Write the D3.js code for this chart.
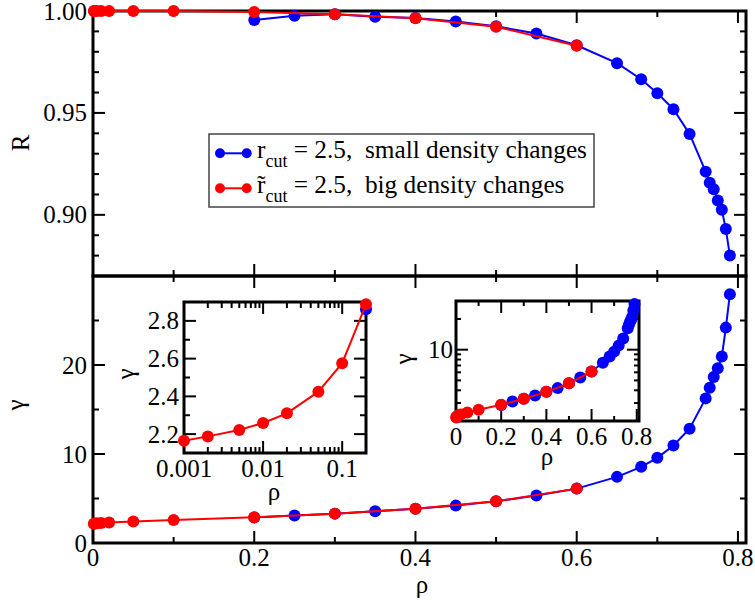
<!DOCTYPE html>
<html><head><meta charset="utf-8">
<script src="https://cdn.jsdelivr.net/npm/d3@7"></script>
<style>
body{margin:0;background:#fff}
text{font-family:"Liberation Serif","Times New Roman",serif;fill:#000;white-space:pre}
</style>
</head><body>
<svg id="c" width="755" height="608" xmlns="http://www.w3.org/2000/svg"></svg>
<script>
// ---------------- data ----------------
const rhoBlue   = [0.2,0.25,0.3,0.35,0.4,0.45,0.5,0.55,0.6,0.65,0.68,0.70,0.72,0.74,0.76,0.765,0.77,0.775,0.78,0.785,0.79];
const RBlue     = [0.9956,0.9977,0.9984,0.9972,0.9966,0.9948,0.9925,0.989,0.9832,0.9744,0.9665,0.9597,0.9518,0.9397,0.9212,0.9158,0.9126,0.907,0.9025,0.893,0.880];
const gammaBlue = [2.862,3.1,3.3,3.56,3.86,4.2,4.68,5.33,6.11,7.43,8.56,9.57,10.96,12.84,16.25,17.45,18.65,19.63,20.95,24.2,27.96];
const rhoRed    = [0.001,0.002,0.005,0.01,0.02,0.05,0.1,0.2,0.3,0.4,0.5,0.6];
const RRed      = [1.0,1.0,1.0,1.0,1.0,1.0,1.0,0.9995,0.9984,0.9964,0.9923,0.983];
const gammaRed  = [2.165,2.188,2.222,2.259,2.31,2.425,2.576,2.888,3.3,3.86,4.68,6.11];

const xMajor = [0,0.2,0.4,0.6,0.8], xMinor = [0.1,0.3,0.5,0.7];
const xLabels = ["0","0.2","0.4","0.6","0.8"];
const RMajor = [0.90,0.95,1.00], RLabels = ["0.90","0.95","1.00"];
const RMinor = [0.88,0.89,0.91,0.92,0.93,0.94,0.96,0.97,0.98,0.99];
const gMajor = [0,10,20], gLabels = ["0","10","20"], gMinor = [5,15,25];
const in1XMajor = [0.001,0.01,0.1], in1XLabels = ["0.001","0.01","0.1"];
const in1XMinor = [0.002,0.003,0.004,0.005,0.006,0.007,0.008,0.009,0.02,0.03,0.04,0.05,0.06,0.07,0.08,0.09];
const in1YMajor = [2.2,2.4,2.6,2.8], in1YLabels = ["2.2","2.4","2.6","2.8"];
const in1YMinor = [2.3,2.5,2.7];
const in2YMajor = [10], in2YLabels = ["10"], in2YMinor = [3,4,5,6,7,8,9,20];
const legendLabels = [" = 2.5,  small density changes"," = 2.5,  big density changes"];

const BLUE = "#0000ff", RED = "#ff0000";
const FS = 25;
const svg = d3.select("#c");

const blue = rhoBlue.map((r,i)=>({x:r,R:RBlue[i],g:gammaBlue[i]}));
const red  = rhoRed.map((r,i)=>({x:r,R:RRed[i],g:gammaRed[i]}));

// ---------------- helpers ----------------
function frame(g, xs, ys, fill){
  const [x0,x1]=xs.range(), [y0,y1]=ys.range();
  g.append("rect").attr("x",x0).attr("y",y1).attr("width",x1-x0).attr("height",y0-y1)
   .attr("fill",fill||"none").attr("stroke","#000").attr("stroke-width",3);
}
function ticks(g, xs, ys, o){
  const [x0,x1]=xs.range(), [yb,yt]=ys.range();
  const M=o.M||12, m=o.m||6;
  const seg=(a,b,c,d)=>g.append("line").attr("x1",a).attr("y1",b).attr("x2",c).attr("y2",d)
     .attr("stroke","#000").attr("stroke-width",2);
  const xt=(v,L)=>{const p=xs(v); seg(p,yb,p,yb-L); seg(p,yt,p,yt+L);};
  const yt_=(v,L)=>{const p=ys(v); seg(x0,p,x0+L,p); seg(x1,p,x1-L,p);};
  (o.xMaj||[]).forEach(v=>xt(v,M)); (o.xMin||[]).forEach(v=>xt(v,m));
  (o.yMaj||[]).forEach(v=>yt_(v,M)); (o.yMin||[]).forEach(v=>yt_(v,m));
}
function yLabels(g, ys, vals, labs, xr){
  vals.forEach((v,i)=>g.append("text").attr("x",xr).attr("y",ys(v)+8.5)
    .attr("text-anchor","end").attr("font-size",FS).text(labs[i]));
}
function xLabelsF(g, xs, vals, labs, base){
  vals.forEach((v,i)=>g.append("text").attr("x",xs(v)).attr("y",base)
    .attr("text-anchor","middle").attr("font-size",FS).text(labs[i]));
}
function series(g, data, xs, ys, key, color, r){
  const line=d3.line().x(d=>xs(d.x)).y(d=>ys(d[key]));
  g.append("path").attr("d",line(data)).attr("fill","none").attr("stroke",color).attr("stroke-width",2);
  g.selectAll(null).data(data).enter().append("circle")
   .attr("cx",d=>xs(d.x)).attr("cy",d=>ys(d[key])).attr("r",r).attr("fill",color);
}
function rotLabel(x,y,t){
  svg.append("text").attr("transform",`translate(${x},${y}) rotate(-90)`)
     .attr("text-anchor","middle").attr("font-size",FS).text(t);
}

// ---------------- main panels ----------------
const x = d3.scaleLinear().domain([0,0.81]).range([93,746]);
const yTop = d3.scaleLinear().domain([0.87,1.0]).range([276,11]);
const yBot = d3.scaleLinear().domain([0,30]).range([543,276]);

const gTop = svg.append("g");
frame(gTop,x,yTop);
ticks(gTop,x,yTop,{xMaj:xMajor,xMin:xMinor,yMaj:RMajor,yMin:RMinor});
yLabels(gTop,yTop,RMajor,RLabels,87);
series(gTop,blue,x,yTop,"R",BLUE,6);
series(gTop,red,x,yTop,"R",RED,6);

const gBot = svg.append("g");
frame(gBot,x,yBot);
ticks(gBot,x,yBot,{xMaj:xMajor,xMin:xMinor,yMaj:gMajor,yMin:gMinor});
yLabels(gBot,yBot,gMajor,gLabels,87);
xLabelsF(gBot,x,xMajor,xLabels,566);
series(gBot,blue,x,yBot,"g",BLUE,6);
series(gBot,red,x,yBot,"g",RED,6);

rotLabel(29,143,"R");
rotLabel(24,405,"γ");
svg.append("text").attr("x",422).attr("y",593).attr("text-anchor","middle").attr("font-size",FS).text("ρ");

// ---------------- legend ----------------
const lg = svg.append("g");
lg.append("rect").attr("x",209).attr("y",134).attr("width",385).attr("height",73)
  .attr("fill","#fff").attr("stroke","#444").attr("stroke-width",1.5);
[[BLUE,153.3],[RED,188.3]].forEach(([c,yy],i)=>{
  lg.append("line").attr("x1",220).attr("x2",246.7).attr("y1",yy).attr("y2",yy).attr("stroke",c).attr("stroke-width",2);
  lg.append("circle").attr("cx",220).attr("cy",yy).attr("r",5).attr("fill",c);
  lg.append("circle").attr("cx",246.7).attr("cy",yy).attr("r",5).attr("fill",c);
  const t = lg.append("text").attr("x",257).attr("y",yy+5).attr("font-size",25.3);
  t.append("tspan").text("r");
  t.append("tspan").attr("font-size",18).attr("dy",9).text("cut");
  t.append("tspan").attr("dy",-9).text(legendLabels[i]);
  if(i===1) lg.append("text").attr("x",261.3).attr("y",yy+5).attr("text-anchor","middle").attr("font-size",25.3).text("˜");
});

// ---------------- inset 1 (log x) ----------------
const x1 = d3.scaleLog().domain([0.001,0.2]).range([184,366]);
const y1 = d3.scaleLinear().domain([2.1,2.9]).range([453,302]);
const g1 = svg.append("g");
frame(g1,x1,y1,"#fff");
ticks(g1,x1,y1,{xMaj:in1XMajor,xMin:in1XMinor,yMaj:in1YMajor,yMin:in1YMinor,M:12,m:6});
yLabels(g1,y1,in1YMajor,in1YLabels,179);
xLabelsF(g1,x1,in1XMajor,in1XLabels,477);
const in1 = d=>d.x>=0.001 && d.x<=0.2;
series(g1,blue.filter(in1),x1,y1,"g",BLUE,6);
series(g1,red.filter(in1),x1,y1,"g",RED,6);
svg.append("text").attr("x",274).attr("y",500).attr("text-anchor","middle").attr("font-size",FS).text("ρ");
rotLabel(134,374,"γ");

// ---------------- inset 2 (log y) ----------------
const x2 = d3.scaleLinear().domain([0,0.81]).range([456,639]);
const y2 = d3.scaleLog().domain([2,30]).range([421,301]);
const g2 = svg.append("g");
frame(g2,x2,y2,"#fff");
ticks(g2,x2,y2,{xMaj:xMajor,xMin:xMinor,yMaj:in2YMajor,yMin:in2YMinor,M:12,m:5});
yLabels(g2,y2,in2YMajor,in2YLabels,453);
xLabelsF(g2,x2,xMajor,xLabels,445);
series(g2,blue,x2,y2,"g",BLUE,6);
series(g2,red,x2,y2,"g",RED,6);
svg.append("text").attr("x",547).attr("y",465).attr("text-anchor","middle").attr("font-size",FS).text("ρ");
rotLabel(412,359,"γ");
</script>
</body></html>
